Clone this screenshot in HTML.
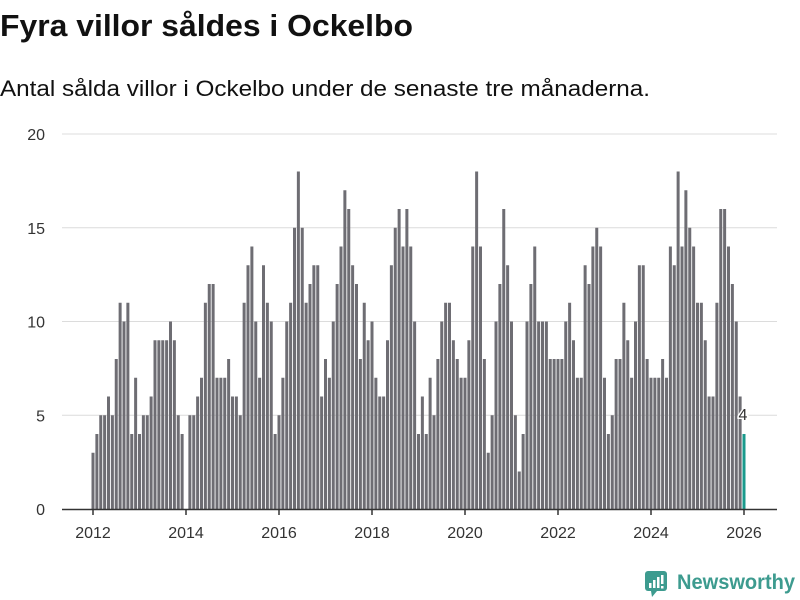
<!DOCTYPE html>
<html><head><meta charset="utf-8"><style>
body{margin:0;background:#fff;width:800px;height:600px;overflow:hidden}
svg{display:block;font-family:"Liberation Sans",sans-serif}
</style></head><body>
<svg width="800" height="600">
<text x="0" y="36" font-size="31" font-weight="bold" fill="#111" textLength="413" lengthAdjust="spacingAndGlyphs">Fyra villor såldes i Ockelbo</text>
<text x="0" y="96" font-size="22" fill="#111" textLength="650" lengthAdjust="spacingAndGlyphs">Antal sålda villor i Ockelbo under de senaste tre månaderna.</text>
<g id="grid"></g><g id="bars"></g><g id="xaxis"></g>
<g>
<rect x="645" y="571" width="22" height="20" rx="3" fill="#3d9b8f"/>
<polygon points="651,591 657,591 652,597" fill="#3d9b8f"/>
<rect x="649" y="583" width="2.5" height="5" fill="#fff"/><rect x="653" y="580" width="2.5" height="8" fill="#fff"/><rect x="657" y="577" width="2.5" height="11" fill="#fff"/><rect x="661" y="575" width="2.5" height="9" fill="#fff"/><rect x="661" y="586" width="2.5" height="2.5" fill="#fff"/>
<text x="677" y="589" font-size="21" font-weight="bold" fill="#3d9b8f" textLength="118" lengthAdjust="spacingAndGlyphs">Newsworthy</text>
</g>
</svg>
<script>
const values=[3,4,5,5,6,5,8,11,10,11,4,7,
4,5,5,6,9,9,9,9,10,9,5,4,
0,5,5,6,7,11,12,12,7,7,7,8,
6,6,5,11,13,14,10,7,13,11,10,4,
5,7,10,11,15,18,15,11,12,13,13,6,
8,7,10,12,14,17,16,13,12,8,11,9,
10,7,6,6,9,13,15,16,14,16,14,10,
4,6,4,7,5,8,10,11,11,9,8,7,
7,9,14,18,14,8,3,5,10,12,16,13,
10,5,2,4,10,12,14,10,10,10,8,8,
8,8,10,11,9,7,7,13,12,14,15,14,
7,4,5,8,8,11,9,7,10,13,13,8,
7,7,7,8,7,14,13,18,14,17,15,14,
11,11,9,6,6,11,16,16,14,12,10,6,
4];
const startYear=2012;
const yTicks=[0,5,10,15,20];
const xTickYears=[2012,2014,2016,2018,2020,2022,2024,2026];
const NS='http://www.w3.org/2000/svg';
function y(v){return 509-v*18.75;}
function x(i){return 93+i*3.875;}
function mk(t,a,p){const e=document.createElementNS(NS,t);for(const k in a)e.setAttribute(k,a[k]);p.appendChild(e);return e;}
const g=document.getElementById('grid'),b=document.getElementById('bars'),xa=document.getElementById('xaxis');
yTicks.forEach(t=>{
 if(t>0){const l=mk('line',{x1:62,x2:777,y1:y(t),y2:y(t),stroke:'#dcdcdc','stroke-width':1},g);
 
 }
 const tx=mk('text',{x:45,y:y(t)+6,'font-size':16,fill:'#333','text-anchor':'end'},g);tx.textContent=t;
 
 
});
values.forEach((v,i)=>{
 const last=i===values.length-1;
 const r=mk('rect',{x:x(i)-1.5,y:y(v),width:3,height:v*18.75,fill:last?'#1a9a8c':'#6e6d73'},b);
 
 
 if(last){const t=mk('text',{x:x(i)-1,y:y(v)-14,'font-size':16,fill:'#333','text-anchor':'middle',stroke:'#fff','stroke-width':3,'paint-order':'stroke'},b);t.textContent=v;
 
 }
});
const base=mk('line',{x1:62,x2:777,y1:509.5,y2:509.5,stroke:'#333','stroke-width':1.5},xa);


xTickYears.forEach(yr=>{
 const xi=x((yr-startYear)*12);
 const tk=mk('line',{x1:xi,x2:xi,y1:509,y2:515,stroke:'#333','stroke-width':1.5},xa);
 
 
 const t=mk('text',{x:xi,y:538,'font-size':16,fill:'#333','text-anchor':'middle'},xa);t.textContent=yr;
 
 
});
</script>
</body></html>
